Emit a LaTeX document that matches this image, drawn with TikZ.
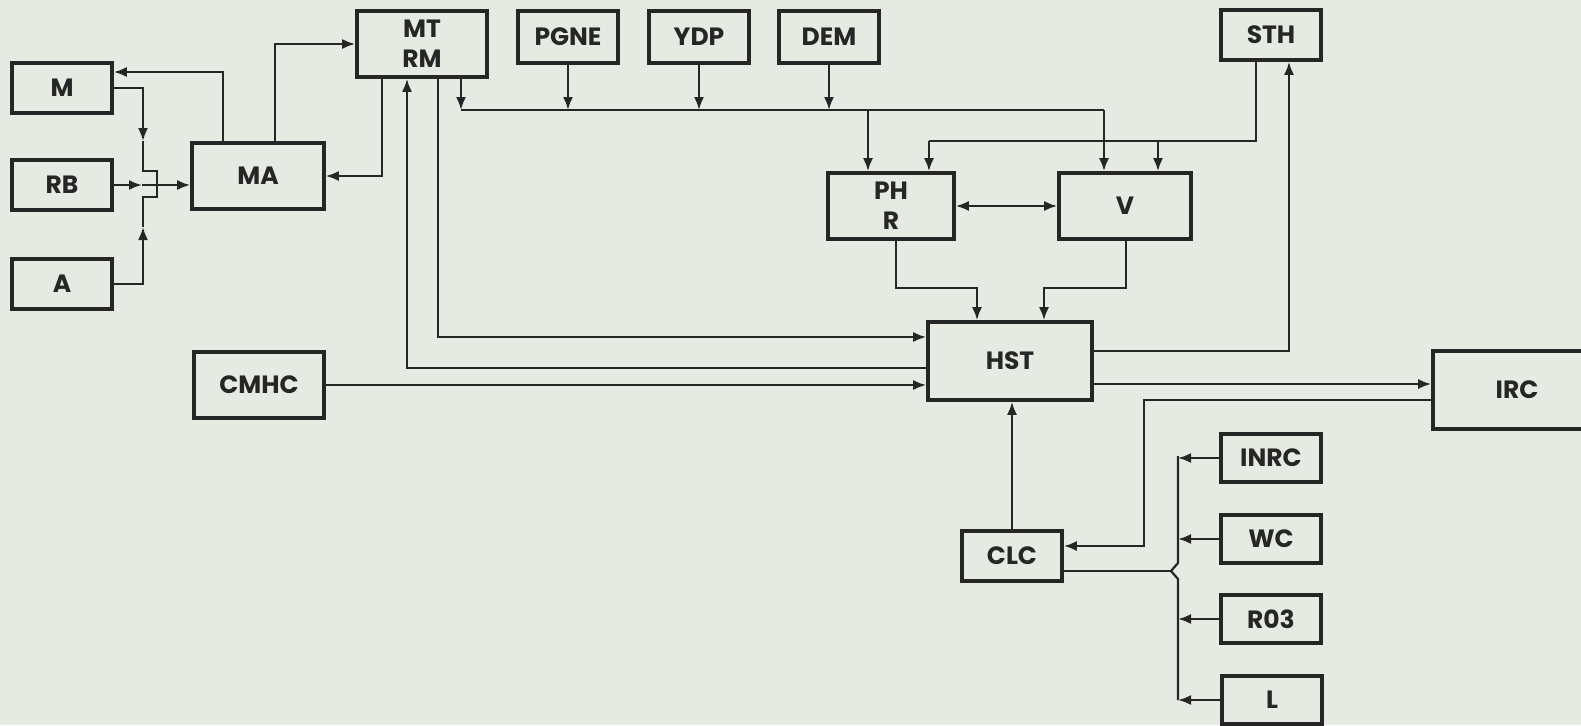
\documentclass[tikz,border=0pt]{standalone}
\usepackage{fontspec}
\usepackage{tikz}
\usetikzlibrary{arrows.meta,positioning}
\newfontfamily\blkfont{Poppins}
\definecolor{cpaper}{HTML}{E5EBE3}
\definecolor{cink}{HTML}{262626}
\tikzset{
  blk/.style={rectangle, draw=cink, line width=1.8pt, fill=cpaper, align=center,
    inner sep=0pt, font=\blkfont\bfseries\fontsize{12.5}{15}\selectfont, text=cink},
  sblk/.style={blk, minimum width=50pt, minimum height=25pt},
  bblk/.style={blk, minimum width=65pt, minimum height=33pt},
  arr/.style={-{Latex[length=6.5pt,width=5pt]}, line width=1.1pt, draw=cink},
  darr/.style={{Latex[length=6.5pt,width=5pt]}-{Latex[length=6.5pt,width=5pt]}, line width=1.1pt, draw=cink},
  ln/.style={line width=1.1pt, draw=cink},
}

\begin{document}
\begin{tikzpicture}[x=0.5pt, y=-0.5pt]
  \fill[cpaper] (0,0) rectangle (1581,725);
  \useasboundingbox (0,0) rectangle (1581,725);

  % left inputs
  \node[sblk] (M) at (62,88) {M};
  \node[sblk] (RB) at (62,185) {RB};
  \node[sblk] (A) at (62,284) {A};
  \node[bblk, minimum width=66pt] (MA) at (258,176) {MA};
  \node[bblk] (CMHC) at (259,385) {CMHC};

  % top row
  \node[bblk] (MTRM) at (422,44) {MT\\RM};
  \node[sblk, minimum height=26pt] (PGNE) at (568,37) {PGNE};
  \node[sblk, minimum height=26pt] (YDP) at (699,37) {YDP};
  \node[sblk, minimum height=26pt] (DEM) at (829,37) {DEM};
  \node[sblk] (STH) at (1271,35) {STH};

  % middle
  \node[bblk, minimum width=63pt] (PHR) at (891,206) {PH\\R};
  \node[bblk, minimum width=66pt] (V) at (1125,206) {V};
  \node[blk, minimum width=82pt, minimum height=39pt] (HST) at (1010,361) {HST};
  \node[blk, minimum width=84pt, minimum height=39pt] (IRC) at (1517,390) {IRC};

  % lower right
  \node[sblk] (CLC) at (1012,556) {CLC};
  \node[sblk, minimum height=24pt] (INRC) at (1271,458) {INRC};
  \node[sblk, minimum height=24pt] (WC) at (1271,539) {WC};
  \node[sblk, minimum height=24pt] (R03) at (1271,619) {R03};
  \node[sblk, minimum height=24pt] (L) at (1272,700) {L};

  % junction points
  \coordinate (jm) at (143,141);
  \coordinate (ja) at (143,227);
  \coordinate (jr) at (142,185);
  \coordinate (b1) at (157,171);
  \coordinate (b2) at (143,197);
  \coordinate (mam) at (223,72);
  \coordinate (mat) at (275,45);
  \coordinate (tma) at (382,175);
  \coordinate (hmt) at (407,368);
  \coordinate (mth) at (438,337);
  \coordinate (bus) at (461,110);
  \coordinate (busr) at (1104,110);
  \coordinate (bph) at (868,110);
  \coordinate (sl) at (929,141);
  \coordinate (sr) at (1256,141);
  \coordinate (sv) at (1158,141);
  \coordinate (ph) at (977,288);
  \coordinate (vh) at (1044,288);
  \coordinate (ph0) at (896,288);
  \coordinate (vh0) at (1126,288);
  \coordinate (hs) at (1289,351);
  \coordinate (hi) at (1200,384);
  \coordinate (ic) at (1144,400);
  \coordinate (ic2) at (1144,546);
  \coordinate (tb) at (1178,456);
  \coordinate (k1) at (1178,563);
  \coordinate (kink) at (1171,571);
  \coordinate (k2) at (1178,579);
  \coordinate (bb) at (1178,700);

  % into MA
  \draw[arr] (M.east) -| (jm);
  \draw[ln] (jm) |- (b1) |- (b2) -- (ja);
  \draw[arr] (A.east) -| (ja);
  \draw[arr] (RB.east) -- (jr);
  \draw[arr] (jr) -- (jr -| MA.west);
  \draw[arr] (MA.north -| mam) |- (M.east |- mam);
  \draw[arr] (MA.north -| mat) |- (MTRM.west);
  \draw[arr] (MTRM.south -| tma) |- (MA.east);

  % MT RM and HST
  \draw[arr] (HST.west |- hmt) -| (MTRM.south -| hmt);
  \draw[arr] (MTRM.south -| mth) |- (HST.west |- mth);
  \draw[arr] (CMHC.east) -- (CMHC.east -| HST.west);

  % bus to PH R and V
  \draw[arr] (MTRM.south -| bus) -- (bus);
  \draw[ln] (bus) -- (busr);
  \draw[arr] (PGNE.south) -- (PGNE.south |- bus);
  \draw[arr] (YDP.south) -- (YDP.south |- bus);
  \draw[arr] (DEM.south) -- (DEM.south |- bus);
  \draw[arr] (bph) -- (bph |- PHR.north);
  \draw[arr] (busr) -- (busr |- V.north);
  \draw[ln] (STH.south -| sr) |- (sl);
  \draw[arr] (sl) -- (sl |- PHR.north);
  \draw[arr] (sv) -- (sv |- V.north);
  \draw[darr] (PHR.east) -- (V.west);
  \draw[arr] (PHR.south -| ph0) |- (ph) -- (ph |- HST.north);
  \draw[arr] (V.south -| vh0) |- (vh) -- (vh |- HST.north);

  % HST outputs
  \draw[arr] (HST.east |- hs) -| (STH.south -| hs);
  \draw[arr] (HST.east |- hi) -- (hi -| IRC.west);
  \draw[arr] (IRC.west |- ic) -- (ic) -- (ic2) -- (ic2 -| CLC.east);
  \draw[arr] (CLC.north) -- (CLC.north |- HST.south);

  % CLC inputs
  \draw[ln] (CLC.east |- kink) -- (kink);
  \draw[ln] (tb) -- (k1) -- (kink) -- (k2) -- (bb);
  \draw[arr] (INRC.west) -- (INRC.west -| tb);
  \draw[arr] (WC.west) -- (WC.west -| tb);
  \draw[arr] (R03.west) -- (R03.west -| tb);
  \draw[arr] (L.west) -- (L.west -| tb);
\end{tikzpicture}
\end{document}
